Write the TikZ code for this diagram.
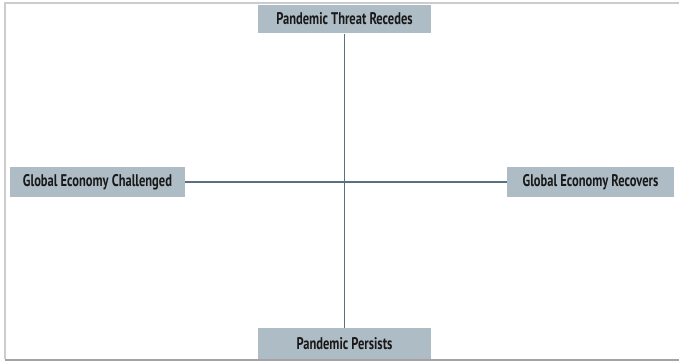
\documentclass[tikz,border=0pt]{standalone}
\usepackage{fontspec}
\setmainfont[FakeStretch=0.74]{PT Sans}
\usepackage{xcolor}
\definecolor{boxfill}{HTML}{AEBCC5}
\definecolor{axisln}{HTML}{5B6F80}
\definecolor{framelt}{HTML}{CCCCCC}
\definecolor{framedk}{HTML}{A3A3A3}
\tikzset{
    scen/.style={fill=boxfill, inner sep=0pt, font=\bfseries\fontsize{12}{14}\selectfont, text=black!90},
    ax/.style={draw=axisln, line width=0.9pt},
    frm/.style={line width=2pt}
}

\begin{document}
\begin{tikzpicture}[x=0.025cm, y=-0.025cm]
        \useasboundingbox (0,0) rectangle (679,363);
        % frame
        \draw[frm, framelt] (5,359) -- (5,3) -- (679,3);
        \draw[frm, framedk] (5,360) -- (679,360);

        \node[scen, minimum width=4.3cm, minimum height=0.72cm] (up) at (344.5,19) {Pandemic Threat Recedes};
        \node[scen, minimum width=4.3cm, minimum height=0.78cm] (dn) at (344.5,343.5) {Pandemic Persists};
        \node[scen, minimum width=4.375cm, minimum height=0.75cm] (lt) at (97.5,182) {Global Economy Challenged};
        \node[scen, minimum width=4.175cm, minimum height=0.75cm] (rt) at (590.5,182) {Global Economy Recovers};

        \draw[ax] (up) -- (dn);
        \draw[ax] (lt) -- (rt);
    \end{tikzpicture}
\end{document}
